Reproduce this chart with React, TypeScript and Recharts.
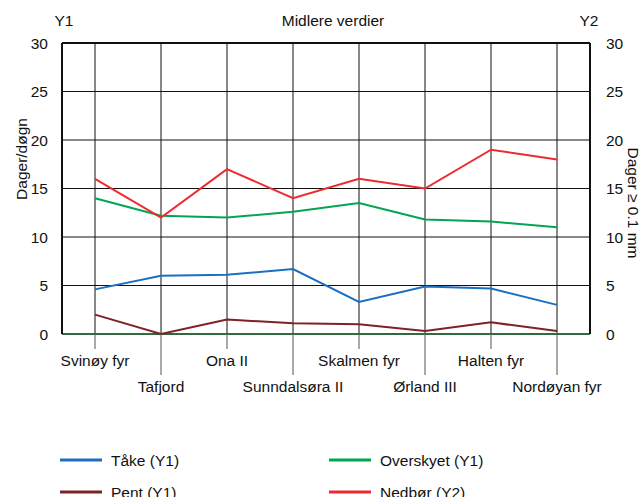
import React from "react";
import {
  LineChart,
  Line,
  XAxis,
  YAxis,
  CartesianGrid,
  ReferenceLine,
} from "recharts";

const stations = [
  "Svinøy fyr",
  "Tafjord",
  "Ona II",
  "Sunndalsøra II",
  "Skalmen fyr",
  "Ørland III",
  "Halten fyr",
  "Nordøyan fyr",
];
const take = [4.6, 6.0, 6.1, 6.7, 3.3, 4.9, 4.7, 3.0];
const pent = [2.0, 0.0, 1.5, 1.1, 1.0, 0.3, 1.2, 0.3];
const overskyet = [14.0, 12.2, 12.0, 12.6, 13.5, 11.8, 11.6, 11.0];
const nedbor = [16, 12, 17, 14, 16, 15, 19, 18];
const yTicks = [0, 5, 10, 15, 20, 25, 30];

const FONT = '"Liberation Sans", Arial, Helvetica, sans-serif';
const FS = 15.5;

const data = stations.map((s, i) => ({
  station: s,
  take: take[i],
  pent: pent[i],
  overskyet: overskyet[i],
  nedbor: nedbor[i],
}));

const series = [
  { key: "take", name: "Tåke (Y1)", color: "#1b6fc0", axis: "left" },
  { key: "pent", name: "Pent (Y1)", color: "#7d2229", axis: "left" },
  { key: "overskyet", name: "Overskyet (Y1)", color: "#00a651", axis: "left" },
  { key: "nedbor", name: "Nedbør (Y2)", color: "#ee2a30", axis: "right" },
];

// alternating long/short tick lines under the x axis
const StationTick = (props: any) => {
  const { x, y, payload, index } = props;
  const low = index % 2 === 1;
  return (
    <g>
      <line x1={x} y1={y} x2={x} y2={y + (low ? 41 : 15)} stroke="#555" strokeWidth={1} />
      <text
        x={x}
        y={y + (low ? 58 : 32)}
        textAnchor="middle"
        fontSize={FS}
        fontFamily={FONT}
        fill="#111"
      >
        {payload.value}
      </text>
    </g>
  );
};

const legendRows = [
  [series[0], series[2]],
  [series[1], series[3]],
];

export default function App() {
  const tickStyle = { fontSize: FS, fontFamily: FONT, fill: "#111" };
  return (
    <div
      style={{
        position: "absolute",
        left: 0,
        top: 0,
        width: 644,
        height: 497,
        background: "#fff",
        fontFamily: FONT,
        color: "#111",
        overflow: "hidden",
      }}
    >
      <LineChart
        width={644}
        height={497}
        data={data}
        margin={{ top: 43, right: 14, left: 22, bottom: 103 }}
      >
        <CartesianGrid yAxisId="left" stroke="#111" strokeWidth={1} />
        <XAxis
          dataKey="station"
          axisLine={false}
          tickLine={false}
          tickSize={0}
          tickMargin={0}
          height={60}
          interval={0}
          padding={{ left: 33, right: 33 }}
          tick={<StationTick />}
        />
        <YAxis
          yAxisId="left"
          domain={[0, 30]}
          ticks={yTicks}
          width={40}
          tickLine={false}
          tickMargin={8}
          axisLine={{ stroke: "#111", strokeWidth: 2 }}
          tick={tickStyle}
        />
        <YAxis
          yAxisId="right"
          orientation="right"
          domain={[0, 30]}
          ticks={yTicks}
          width={40}
          tickLine={false}
          tickMargin={10}
          axisLine={{ stroke: "#111", strokeWidth: 2 }}
          tick={tickStyle}
        />
        <ReferenceLine yAxisId="left" y={30} stroke="#111" strokeWidth={2} />
        <ReferenceLine yAxisId="left" y={0} stroke="#2f6b3f" strokeWidth={2} />
        {series.map((s) => (
          <Line
            key={s.key}
            yAxisId={s.axis}
            dataKey={s.key}
            name={s.name}
            stroke={s.color}
            strokeWidth={2}
            dot={false}
            isAnimationActive={false}
          />
        ))}
      </LineChart>

      <svg
        width={644}
        height={497}
        style={{ position: "absolute", left: 0, top: 0, pointerEvents: "none" }}
        fontFamily={FONT}
        fontSize={FS}
        fill="#111"
      >
        <text x={64} y={26} textAnchor="middle">Y1</text>
        <text x={333} y={26} textAnchor="middle">Midlere verdier</text>
        <text x={589} y={26} textAnchor="middle">Y2</text>
        <text x={0} y={0} textAnchor="middle" transform="translate(27 159) rotate(-90)">
          Dager/døgn
        </text>
        <text x={0} y={0} textAnchor="middle" transform="translate(628 203) rotate(90)">
          Dager ≥ 0.1 mm
        </text>
        {legendRows.map((row, r) =>
          row.map((s, c) => {
            const lx = c === 0 ? 60 : 329;
            const ly = 460 + r * 32;
            return (
              <g key={s.key}>
                <line x1={lx} y1={ly} x2={lx + 42} y2={ly} stroke={s.color} strokeWidth={3} />
                <text x={lx + 51} y={ly + 6}>{s.name}</text>
              </g>
            );
          })
        )}
      </svg>
    </div>
  );
}
